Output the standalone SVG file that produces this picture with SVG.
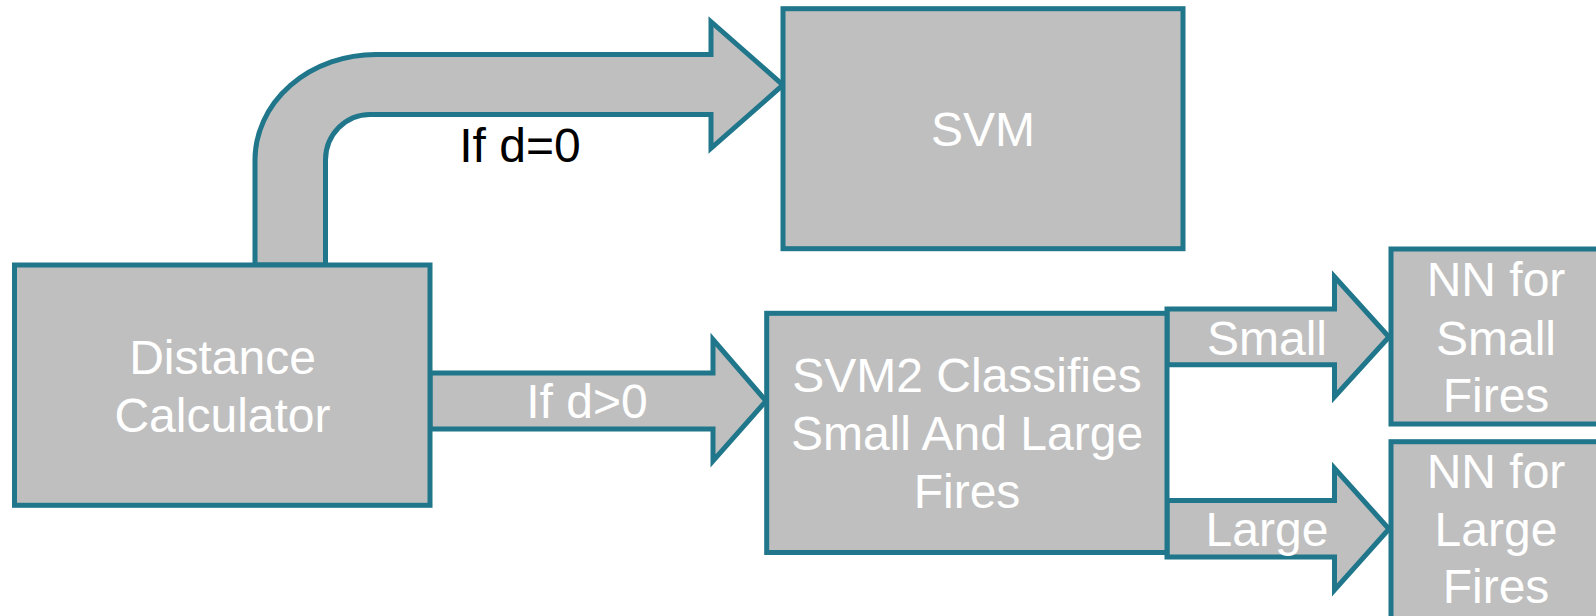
<svg xmlns="http://www.w3.org/2000/svg" width="1596" height="616" viewBox="0 0 1596 616">
<style>
.box{fill:#BFBFBF;stroke:#20768A;stroke-width:5}
.arr{fill:#BFBFBF;stroke:#20768A;stroke-width:5;stroke-linejoin:miter}
.t{font-family:"Liberation Sans",Arial,sans-serif;font-size:48px;fill:#FFFFFF;text-anchor:middle}
.tb{font-family:"Liberation Sans",Arial,sans-serif;font-size:48px;fill:#000000;text-anchor:middle}
</style>
<rect width="1596" height="616" fill="#FFFFFF"/>
<g id="connectors">
<path class="arr" d="M255,265 L255,160 A121,105.5 0 0 1 376,54.5 L711,54.5 L711,21.7 L783,85 L711,148.3 L711,114.5 L370,114.5 A44.5,45.5 0 0 0 325.5,160 L325.5,265 Z"/>
<path class="arr" d="M430,373 L713,373 L713,339.5 L766,401 L713,461 L713,429 L430,429 Z"/>
<path class="arr" d="M1167,309 L1334.5,309 L1334.5,276.7 L1389,337 L1334.5,396.7 L1334.5,364.7 L1167,364.7 Z"/>
<path class="arr" d="M1167,500.5 L1334.5,500.5 L1334.5,468.3 L1389,529 L1334.5,590 L1334.5,557 L1167,557 Z"/>
<text class="tb" x="520" y="162">If d=0</text>
<text class="t" x="587" y="418">If d&gt;0</text>
<text class="t" x="1267" y="355">Small</text>
<text class="t" x="1267" y="546">Large</text>
</g>
<g id="node-distance">
<rect class="box" x="14.5" y="265" width="415.5" height="240.3"/>
<text class="t" x="222.5" y="374">Distance</text>
<text class="t" x="222.5" y="431.7">Calculator</text>
</g>
<g id="node-svm">
<rect class="box" x="783" y="8.7" width="400" height="240"/>
<text class="t" x="983" y="145.7">SVM</text>
</g>
<g id="node-svm2">
<rect class="box" x="766.7" y="313.3" width="400.3" height="239.2"/>
<text class="t" x="967" y="391.7">SVM2 Classifies</text>
<text class="t" x="967" y="450">Small And Large</text>
<text class="t" x="967" y="507.7">Fires</text>
</g>
<g id="node-nn-small">
<rect class="box" x="1391" y="249" width="212" height="175"/>
<text class="t" x="1496" y="296">NN for</text>
<text class="t" x="1496" y="355">Small</text>
<text class="t" x="1496" y="411.7">Fires</text>
</g>
<g id="node-nn-large">
<rect class="box" x="1391" y="441.7" width="212" height="180"/>
<text class="t" x="1496" y="488.3">NN for</text>
<text class="t" x="1496" y="546">Large</text>
<text class="t" x="1496" y="603">Fires</text>
</g>
</svg>
